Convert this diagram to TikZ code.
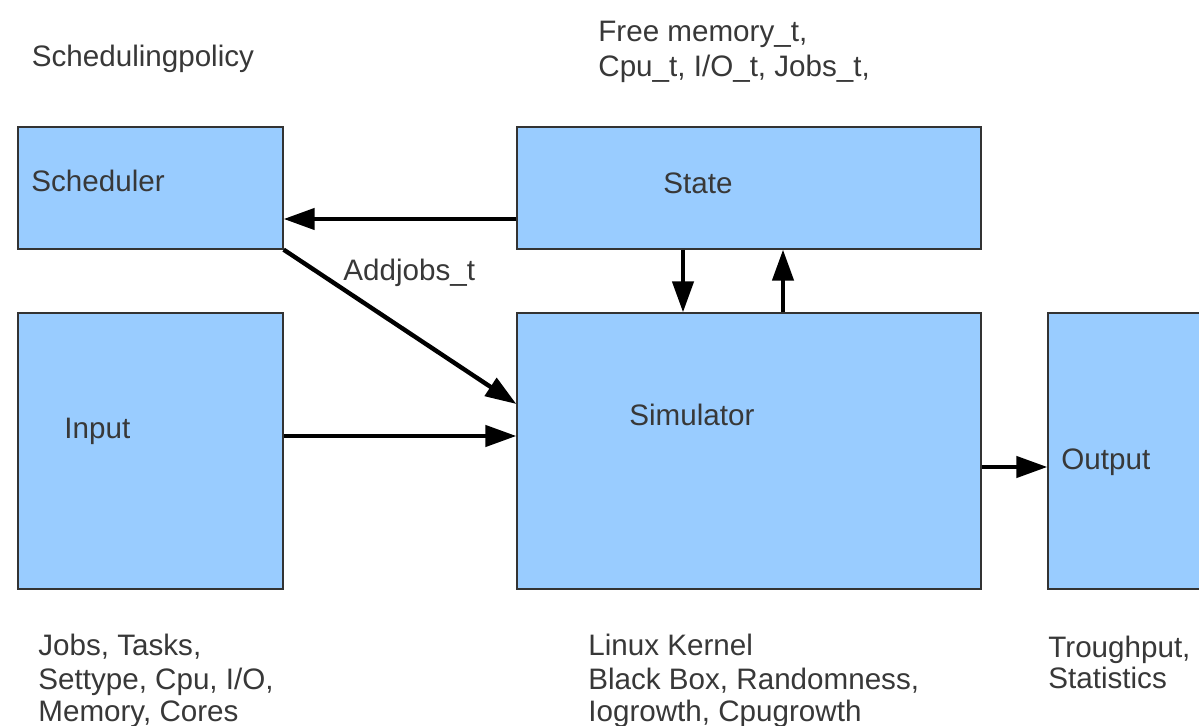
\documentclass[tikz,border=0pt]{standalone}
\usepackage{fontspec}
\setmainfont{Liberation Sans}
\usetikzlibrary{arrows.meta}
\definecolor{boxfill}{HTML}{99CCFF}
\definecolor{boxline}{HTML}{333333}
\definecolor{txt}{HTML}{383838}
\tikzset{
  blk/.style={draw=boxline, fill=boxfill, line width=0.65pt, rectangle, inner sep=0pt},
  lbl/.style={anchor=base west, inner sep=0pt, text=txt, font=\fontsize{14.8}{17}\selectfont},
  arr/.style={draw=black, line width=2.2pt, -{Triangle[length=15.5pt,width=10.5pt]}},
}
\begin{document}
\begin{tikzpicture}[x=0.5pt, y=-0.5pt]
  \fill[white] (0,0) rectangle (1199,726);
  \clip (0,0) rectangle (1199,726);

  % blocks
  \node[blk, minimum width=132.5pt, minimum height=61pt] (sched) at (150.5,188) {};
  \node[blk, minimum width=232pt,   minimum height=61pt] (state) at (749,188) {};
  \node[blk, minimum width=132.5pt, minimum height=138pt] (input) at (150.5,451) {};
  \node[blk, minimum width=232pt,   minimum height=138pt] (sim)   at (749,451) {};
  \node[blk, minimum width=91pt,    minimum height=138pt] (out)   at (1139,451) {};

  % helper coordinates for connector rows and columns
  \coordinate (rowA) at (0,219);
  \coordinate (rowB) at (0,404);
  \coordinate (rowC) at (0,436);
  \coordinate (rowD) at (0,467);
  \coordinate (colA) at (683,0);
  \coordinate (colB) at (783,0);

  % connectors
  \draw[arr] (state.west |- rowA) -- (sched.east |- rowA);
  \draw[arr] (sched.south east) -- (sim.west |- rowB);
  \draw[arr] (input.east |- rowC) -- (sim.west |- rowC);
  \draw[arr] (state.south -| colA) -- (sim.north -| colA);
  \draw[arr] (sim.north -| colB) -- (state.south -| colB);
  \draw[arr] (sim.east |- rowD) -- (out.west |- rowD);

  % labels inside blocks
  \node[lbl] (tsched) at (31,191.5) {Scheduler};
  \node[lbl] (tstate) at (663,194) {State};
  \node[lbl] (tinput) at (64,439) {Input};
  \node[lbl] (tsim)   at (629,426) {Simulator};
  \node[lbl] (tout)   at (1061,470) {Output};

  % free labels
  \node[lbl] (tpol) at (31.5,66.5) {Schedulingpolicy};
  \node[lbl] (tfree1) at (598,42) {Free memory\_t,};
  \node[lbl] (tfree2) at (598,77) {Cpu\_t, I/O\_t, Jobs\_t,};
  \node[lbl] (tadd) at (343,281) {Addjobs\_t};

  \node[lbl] (tin1) at (38,655) {Jobs, Tasks,};
  \node[lbl] (tin2) at (38,689) {Settype, Cpu, I/O,};
  \node[lbl] (tin3) at (38,721) {Memory, Cores};

  \node[lbl] (tsim1) at (588,655) {Linux Kernel};
  \node[lbl] (tsim2) at (588,689) {Black Box, Randomness,};
  \node[lbl] (tsim3) at (588,721) {Iogrowth, Cpugrowth};

  \node[lbl] (tout1) at (1048,657) {Troughput,};
  \node[lbl] (tout2) at (1048,688) {Statistics};
\end{tikzpicture}
\end{document}
